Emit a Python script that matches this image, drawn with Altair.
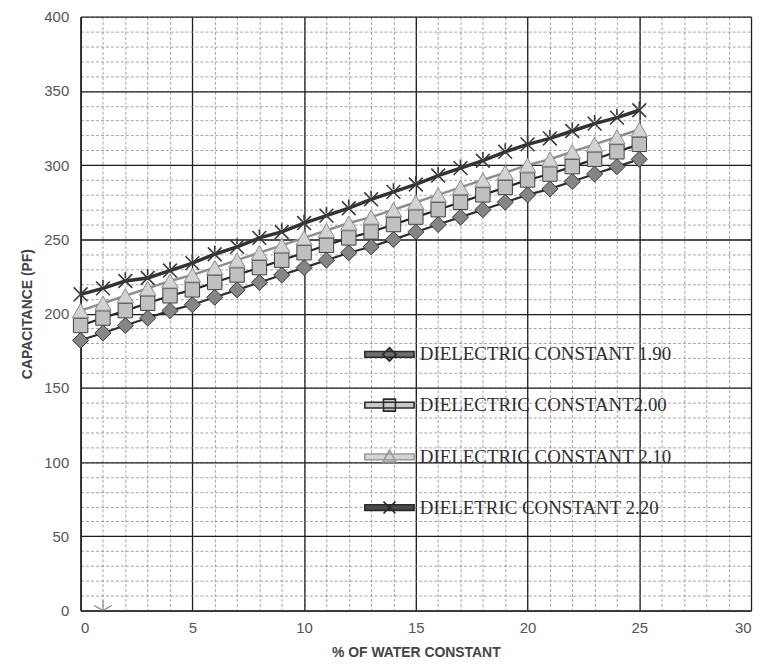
import altair as alt
import pandas as pd

# ---- data ----
water = [0, 1, 2, 3, 4, 5, 6, 7, 8, 9, 10, 11, 12, 13, 14, 15, 16, 17, 18, 19, 20, 21, 22, 23, 24, 25]
cap_190 = [182, 187, 192, 197, 202, 206, 211, 216, 221, 226, 231, 236, 241, 245, 250, 255, 260, 265, 270, 275, 280, 284, 289, 294, 299, 304]
cap_200 = [192, 197, 202, 207, 212, 216, 221, 226, 231, 236, 241, 246, 251, 255, 260, 265, 270, 275, 280, 285, 290, 294, 299, 304, 309, 314]
cap_210 = [202, 207, 212, 217, 222, 226, 231, 236, 241, 246, 251, 256, 261, 265, 270, 275, 280, 285, 290, 295, 300, 304, 309, 314, 319, 324]
cap_220 = [213, 217, 222, 224, 229, 234, 240, 245, 251, 255, 261, 266, 271, 277, 282, 287, 293, 298, 303, 309, 314, 318, 323, 328, 332, 337]

series_names = [
    "DIELECTRIC CONSTANT 1.90",
    "DIELECTRIC CONSTANT2.00",
    "DIELECTRIC CONSTANT 2.10",
    "DIELETRIC CONSTANT 2.20",
]

stray_x = [1]
stray_y = [0]

x_major = [0, 5, 10, 15, 20, 25, 30]
x_minor = [0, 1, 2, 3, 4, 5, 6, 7, 8, 9, 10, 11, 12, 13, 14, 15, 16, 17, 18, 19, 20,
           21, 22, 23, 24, 25, 26, 27, 28, 29, 30]
y_major = [0, 50, 100, 150, 200, 250, 300, 350, 400]
y_minor = [0, 10, 20, 30, 40, 50, 60, 70, 80, 90, 100, 110, 120, 130, 140, 150, 160, 170, 180, 190,
           200, 210, 220, 230, 240, 250, 260, 270, 280, 290, 300, 310, 320, 330, 340, 350, 360, 370,
           380, 390, 400]

rows = []
for name, vals in zip(series_names, [cap_190, cap_200, cap_210, cap_220]):
    for w, c in zip(water, vals):
        rows.append({"water": w, "cap": c, "series": name})
df = pd.DataFrame(rows)
stray = pd.DataFrame({"water": stray_x, "cap": stray_y})

# ---- styles ----
XPATH = "M-0.8,-0.8L0.8,0.8M-0.8,0.8L0.8,-0.8M0,-1L0,-0.3"
STAR = "M0,-1L0,1M-0.87,-0.5L0.87,0.5M-0.87,0.5L0.87,-0.5"
BAR = "M-3.3,-0.38L3.3,-0.38L3.3,0.38L-3.3,0.38Z"
legend_paths = [
    BAR + "M0,-0.9L0.9,0L0,0.9L-0.9,0Z",
    BAR + "M-0.8,-0.8L0.8,-0.8L0.8,0.8L-0.8,0.8Z",
    BAR + "M0,-0.9L0.9,0.7L-0.9,0.7Z",
    BAR + "M-0.8,-0.8L0.8,0.8M-0.8,0.8L0.8,-0.8",
]
legend_fill = ["#6e6e6e", "#c8c8c8", "#d4d4d4", "#4a4a4a"]
legend_stroke = ["#2a2a2a", "#2a2a2a", "#9a9a9a", "#2a2a2a"]

line_color = ["#2e2e2e", "#262626", "#8f8f8f", "#333333"]
line_width = [2.2, 2.2, 2.5, 3.5]
pt_shape = ["diamond", "square", "triangle-up", XPATH]
pt_fill = ["#858585", "#c0c0c0", "#d3d3d3", None]
pt_stroke = ["#363636", "#404040", "#8a8a8a", "#3a3a3a"]
pt_size = [260, 210, 270, 300]

xs = alt.Scale(domain=[0, 30], nice=False, zero=False)
ys = alt.Scale(domain=[0, 400], nice=False, zero=False)

FONT = "Liberation Sans"

minor = alt.Chart(df).mark_point(opacity=0).encode(
    x=alt.X("water:Q", scale=xs, axis=alt.Axis(
        values=x_minor, grid=True, gridColor="#8c8c8c", gridDash=[3, 2], gridWidth=0.8,
        labels=False, ticks=False, domain=False, title=None, orient="bottom")),
    y=alt.Y("cap:Q", scale=ys, axis=alt.Axis(
        values=y_minor, grid=True, gridColor="#8c8c8c", gridDash=[3, 2], gridWidth=0.8,
        labels=False, ticks=False, domain=False, title=None, orient="left")),
)

major = alt.Chart(df).mark_point(opacity=0).encode(
    x=alt.X("water:Q", scale=xs, axis=alt.Axis(
        values=x_major, grid=True, gridColor="#1e1e1e", gridWidth=1.3,
        labels=True, ticks=False, domain=True, domainColor="#3a2c22", domainWidth=1.6,
        labelFont=FONT, labelFontSize=15, labelColor="#555555", labelPadding=10,
        title="% OF WATER CONSTANT", titleFont=FONT, titleFontSize=14, titleFontWeight="bold",
        titleColor="#444444", titlePadding=10, orient="bottom")),
    y=alt.Y("cap:Q", scale=ys, axis=alt.Axis(
        values=y_major, grid=True, gridColor="#1e1e1e", gridWidth=1.3,
        labels=True, ticks=False, domain=True, domainColor="#222222", domainWidth=1.6,
        labelFont=FONT, labelFontSize=15, labelColor="#555555", labelPadding=12,
        title="CAPACITANCE (PF)", titleFont=FONT, titleFontSize=14, titleFontWeight="bold",
        titleColor="#444444", titlePadding=9, orient="left")),
)

layers = [minor, major]
for i, name in enumerate(series_names):
    sub = alt.Chart(df).transform_filter(alt.datum.series == name)
    enc = dict(x=alt.X("water:Q", scale=xs, axis=None), y=alt.Y("cap:Q", scale=ys, axis=None))
    layers.append(sub.mark_line(color=line_color[i], strokeWidth=line_width[i]).encode(**enc))
    if pt_fill[i] is None:
        pm = sub.mark_point(shape=pt_shape[i], filled=False, stroke=pt_stroke[i],
                            strokeWidth=1.6, size=pt_size[i], opacity=1)
    else:
        pm = sub.mark_point(shape=pt_shape[i], filled=True, fill=pt_fill[i], stroke=pt_stroke[i],
                            strokeWidth=1, size=pt_size[i], opacity=1)
    layers.append(pm.encode(**enc))

layers.append(
    alt.Chart(stray).mark_point(shape=STAR, filled=False, stroke="#888888", strokeWidth=1.2,
                                size=420, clip=True, opacity=1).encode(
        x=alt.X("water:Q", scale=xs, axis=None), y=alt.Y("cap:Q", scale=ys, axis=None))
)

leg = alt.Legend(
    title=None, orient="none", legendX=301, legendY=330, padding=0,
    symbolSize=225, symbolStrokeWidth=1.6, symbolOpacity=1, labelOffset=21,
    labelFont="Liberation Serif", labelFontSize=19, labelColor="#2e2e2e",
    rowPadding=31, labelLimit=400,
)
legend_layer = alt.Chart(df).mark_point(opacity=0, filled=True).encode(
    x=alt.X("water:Q", scale=xs, axis=None),
    y=alt.Y("cap:Q", scale=ys, axis=None),
    shape=alt.Shape("series:N", scale=alt.Scale(domain=series_names, range=legend_paths), legend=leg),
    fill=alt.Fill("series:N", scale=alt.Scale(domain=series_names, range=legend_fill), legend=leg),
    stroke=alt.Stroke("series:N", scale=alt.Scale(domain=series_names, range=legend_stroke), legend=leg),
)
layers.append(legend_layer)

chart = alt.layer(*layers).resolve_axis(x="independent", y="independent").properties(
    width=674, height=597, autosize="none",
    padding={"left": 73, "top": 7, "right": 5, "bottom": 50},
    background="white",
).configure_view(stroke=None)

chart.save("out.html", embed_options={"renderer": "svg", "actions": False})
